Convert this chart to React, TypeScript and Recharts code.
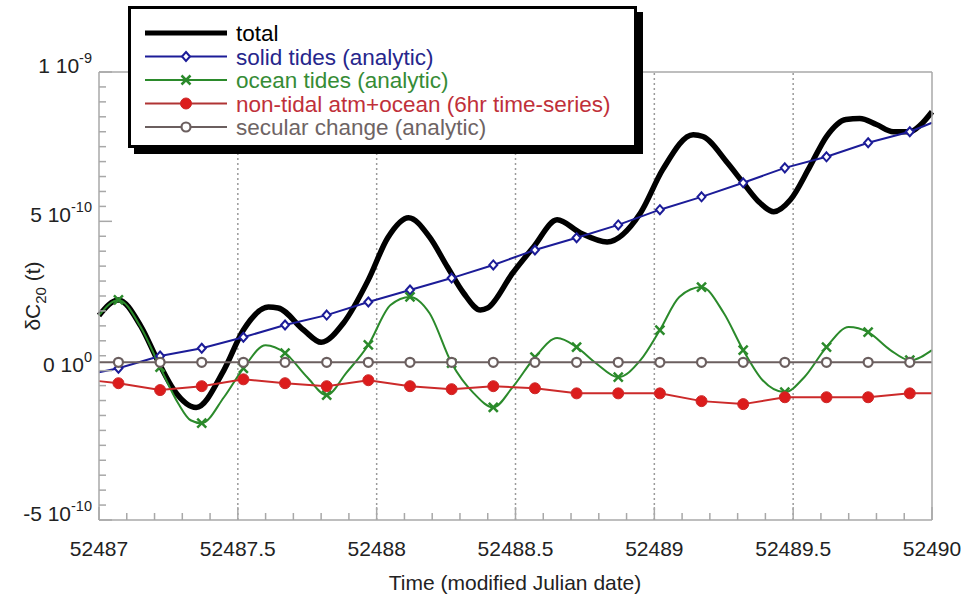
import React from "react";
import { LineChart, Line, XAxis, YAxis, ReferenceLine, Label } from "recharts";

// time in modified Julian date, values in units of 1e-10
const MARKER_T = [
  52487.07, 52487.22, 52487.37, 52487.52, 52487.67, 52487.82, 52487.97, 52488.12, 52488.27, 52488.42,
  52488.57, 52488.72, 52488.87, 52489.02, 52489.17, 52489.32, 52489.47, 52489.62, 52489.77, 52489.92,
];

const TOTAL_T = [
  52487, 52487.07, 52487.15, 52487.216, 52487.27, 52487.35, 52487.45, 52487.52, 52487.61, 52487.645,
  52487.737, 52487.8, 52487.88, 52487.97, 52488.04, 52488.115, 52488.19, 52488.255, 52488.313, 52488.374,
  52488.4, 52488.49, 52488.565, 52488.65, 52488.734, 52488.83, 52488.95, 52489.03, 52489.14, 52489.175,
  52489.263, 52489.32, 52489.38, 52489.43, 52489.49, 52489.56, 52489.62, 52489.69, 52489.74, 52489.8,
  52489.86, 52489.92, 52489.96, 52490,
];
const TOTAL_V = [
  1.85, 2.37, 1.5, 0.25, -0.65, -1.23, 0.02, 1.36, 2.13, 2.1,
  1.36, 0.95, 1.59, 3.04, 4.45, 5.12, 4.48, 3.47, 2.6, 2.03,
  2.1, 3.27, 4.14, 5.05, 4.61, 4.31, 5.28, 6.73, 7.9, 7.84,
  6.96, 6.29, 5.62, 5.32, 5.72, 6.83, 7.84, 8.41, 8.44, 8.24,
  8.0, 8.0, 8.24, 8.67,
];

const SOLID_T = [52487, ...MARKER_T, 52490];
const SOLID_V = [
  -0.05, 0.08, 0.49, 0.75, 1.12, 1.53, 1.86, 2.3, 2.7, 3.1, 3.54,
  4.04, 4.45, 4.88, 5.39, 5.82, 6.29, 6.79, 7.16, 7.63, 8.0, 8.3,
];

const OCEAN_T = [
  52487, 52487.07, 52487.15, 52487.22, 52487.285, 52487.33, 52487.37, 52487.45, 52487.52, 52487.6,
  52487.67, 52487.75, 52487.82, 52487.89, 52487.97, 52488.05, 52488.12, 52488.19, 52488.27, 52488.35,
  52488.42, 52488.49, 52488.57, 52488.65, 52488.72, 52488.79, 52488.87, 52488.95, 52489.02, 52489.09,
  52489.17, 52489.25, 52489.32, 52489.39, 52489.47, 52489.54, 52489.62, 52489.7, 52489.77, 52489.85,
  52489.92, 52490,
];
const OCEAN_V = [
  1.85, 2.37, 1.46, 0.12, -1.09, -1.66, -1.76, -0.89, 0.08, 0.85,
  0.59, -0.22, -0.82, -0.08, 0.86, 2.2, 2.47, 1.93, 0.25, -0.76,
  -1.23, -0.55, 0.45, 1.09, 0.79, 0.25, -0.22, 0.35, 1.36, 2.47,
  2.8, 1.93, 0.69, -0.32, -0.72, -0.22, 0.79, 1.46, 1.29, 0.69,
  0.35, 0.69,
];

const ATMO_T = [52487, ...MARKER_T, 52490];
const ATMO_V = [
  -0.35, -0.42, -0.65, -0.52, -0.29, -0.42, -0.52, -0.32, -0.52, -0.62, -0.52,
  -0.59, -0.76, -0.76, -0.76, -1.02, -1.12, -0.89, -0.89, -0.89, -0.76, -0.76,
];

const SECULAR_T = [52487, ...MARKER_T, 52490];
const SECULAR_V = [
  0.28, 0.28, 0.28, 0.28, 0.28, 0.28, 0.28, 0.28, 0.28, 0.28, 0.28,
  0.28, 0.28, 0.28, 0.28, 0.28, 0.28, 0.28, 0.28, 0.28, 0.28, 0.28,
];

const X_MAJOR = [52487, 52487.5, 52488, 52488.5, 52489, 52489.5, 52490];
const X_LABELS = ["52487", "52487.5", "52488", "52488.5", "52489", "52489.5", "52490"];
const X_GRID = [52487.5, 52488, 52488.5, 52489, 52489.5];
const Y_MAJOR = [-5, 0, 5, 10];
const Y_MANTISSA = ["-5", "0", "5", "1"];
const Y_EXPONENT = ["-10", "0", "-10", "-9"];

const X_TICKS = Array.from({ length: 31 }, (_, i) => +(52487 + i * 0.1).toFixed(1));
const Y_TICKS = Array.from({ length: 31 }, (_, i) => -5 + i * 0.5);

const FONT = "'Liberation Sans', Arial, Helvetica, sans-serif";
const AXIS_GRAY = "#a8a8a8";
const COL = {
  total: "#000000",
  solid: "#1c1c98",
  ocean: "#2b8a2b",
  atmo: "#cc2a2a",
  atmoDot: "#dc1c1c",
  secular: "#6b5f5f",
};

const toSeries = (ts: number[], vs: number[]) =>
  ts.map((t, i) => ({ t, v: vs[i], m: MARKER_T.includes(t) }));

const totalData = toSeries(TOTAL_T, TOTAL_V);
const solidData = toSeries(SOLID_T, SOLID_V);
const oceanData = toSeries(OCEAN_T, OCEAN_V);
const atmoData = toSeries(ATMO_T, ATMO_V);
const secularData = toSeries(SECULAR_T, SECULAR_V);

const near = (a: number, b: number) => Math.abs(a - b) < 1e-6;
const xIndex = (v: number) => X_MAJOR.findIndex((m) => near(m, v));
const yIndex = (v: number) => Y_MAJOR.findIndex((m) => near(m, v));

function Diamond({ cx, cy }: { cx: number; cy: number }) {
  return (
    <polygon
      points={`${cx},${cy - 4.5} ${cx + 4},${cy} ${cx},${cy + 4.5} ${cx - 4},${cy}`}
      fill="#fff"
      stroke={COL.solid}
      strokeWidth={2}
    />
  );
}
function Cross({ cx, cy }: { cx: number; cy: number }) {
  return (
    <g stroke={COL.ocean} strokeWidth={2.5}>
      <line x1={cx - 4.5} y1={cy - 4.5} x2={cx + 4.5} y2={cy + 4.5} />
      <line x1={cx - 4.5} y1={cy + 4.5} x2={cx + 4.5} y2={cy - 4.5} />
    </g>
  );
}
function RedDot({ cx, cy }: { cx: number; cy: number }) {
  return <circle cx={cx} cy={cy} r={5.5} fill={COL.atmoDot} stroke={COL.atmo} strokeWidth={1} />;
}
function OpenDot({ cx, cy }: { cx: number; cy: number }) {
  return <circle cx={cx} cy={cy} r={4.5} fill="#fff" stroke={COL.secular} strokeWidth={2.2} />;
}

const markerDot = (Shape: any) => (p: any) =>
  p.payload && p.payload.m ? <Shape key={p.index} cx={p.cx} cy={p.cy} /> : <g key={p.index} />;

function BottomTick({ x, y, payload }: any) {
  const i = xIndex(payload.value);
  return (
    <g>
      <line x1={x} y1={y} x2={x} y2={y - (i >= 0 ? 13 : 7)} stroke={AXIS_GRAY} strokeWidth={1.5} />
      {i >= 0 && (
        <text x={x} y={y + 36} textAnchor="middle" fontSize={21} fill="#222" fontFamily={FONT}>
          {X_LABELS[i]}
        </text>
      )}
    </g>
  );
}
function TopTick({ x, y, payload }: any) {
  const i = xIndex(payload.value);
  return <line x1={x} y1={y} x2={x} y2={y + (i >= 0 ? 13 : 7)} stroke={AXIS_GRAY} strokeWidth={1.5} />;
}
function LeftTick({ x, y, payload }: any) {
  const i = yIndex(payload.value);
  return (
    <g>
      <line x1={x} y1={y} x2={x + (i >= 0 ? 13 : 7)} y2={y} stroke={AXIS_GRAY} strokeWidth={1.5} />
      {i >= 0 && (
        <text x={x - 7} y={y + 1} textAnchor="end" fontSize={21} fill="#222" fontFamily={FONT}>
          {Y_MANTISSA[i]} 10
          <tspan dy={-10} fontSize={14.5}>
            {Y_EXPONENT[i]}
          </tspan>
        </text>
      )}
    </g>
  );
}
function RightTick({ x, y, payload }: any) {
  const i = yIndex(payload.value);
  return <line x1={x} y1={y} x2={x - (i >= 0 ? 13 : 7)} y2={y} stroke={AXIS_GRAY} strokeWidth={1.5} />;
}

const LEGEND_ROWS = [
  { label: "total", line: COL.total, text: "#000", width: 5, marker: null },
  { label: "solid tides (analytic)", line: COL.solid, text: "#26268c", width: 2, marker: Diamond },
  { label: "ocean tides (analytic)", line: COL.ocean, text: "#368c36", width: 2, marker: Cross },
  { label: "non-tidal atm+ocean (6hr time-series)", line: "#b03434", text: "#c0303a", width: 2, marker: RedDot },
  { label: "secular change (analytic)", line: COL.secular, text: "#6e6464", width: 2, marker: OpenDot },
];

function LegendBox() {
  return (
    <div
      style={{
        position: "absolute",
        left: 128,
        top: 6,
        width: 509,
        height: 142,
        boxSizing: "border-box",
        border: "3px solid #000",
        boxShadow: "6px 6px 0 #000",
        background: "#fff",
      }}
    >
      <svg width={503} height={136} style={{ display: "block" }}>
        {LEGEND_ROWS.map((r, i) => {
          const cy = 24 + i * 23.5;
          const M: any = r.marker;
          return (
            <g key={r.label}>
              <line x1={14} y1={cy} x2={96} y2={cy} stroke={r.line} strokeWidth={r.width} />
              {M && <M cx={55} cy={cy} />}
              <text x={105} y={cy + 8} fontSize={22.5} fill={r.text} fontFamily={FONT}>
                {r.label}
              </text>
            </g>
          );
        })}
      </svg>
    </div>
  );
}

export default function App() {
  return (
    <div style={{ position: "absolute", left: 0, top: 0, width: 972, height: 600, background: "#fff" }}>
      <LineChart width={972} height={600} margin={{ top: 71, right: 39, bottom: 79, left: 98 }}>
        <XAxis
          xAxisId={0}
          dataKey="t"
          type="number"
          domain={[52487, 52490]}
          ticks={X_TICKS}
          interval={0}
          height={1}
          tickSize={0}
          tickMargin={0}
          tickLine={false}
          axisLine={{ stroke: AXIS_GRAY, strokeWidth: 1.5 }}
          tick={BottomTick}
        >
          <Label
            content={() => (
              <text x={515} y={590} textAnchor="middle" fontSize={21} fill="#222" fontFamily={FONT}>
                Time (modified Julian date)
              </text>
            )}
          />
        </XAxis>
        <XAxis
          xAxisId="top"
          orientation="top"
          dataKey="t"
          type="number"
          domain={[52487, 52490]}
          ticks={X_TICKS}
          interval={0}
          height={1}
          tickSize={0}
          tickMargin={0}
          tickLine={false}
          axisLine={{ stroke: AXIS_GRAY, strokeWidth: 1.5 }}
          tick={TopTick}
        />
        <YAxis
          yAxisId={0}
          type="number"
          domain={[-5, 10]}
          ticks={Y_TICKS}
          interval={0}
          width={1}
          tickSize={0}
          tickMargin={0}
          tickLine={false}
          axisLine={{ stroke: AXIS_GRAY, strokeWidth: 1.5 }}
          tick={LeftTick}
        >
          <Label
            content={() => (
              <text transform="translate(40,296) rotate(-90)" textAnchor="middle" fontSize={21} fill="#222" fontFamily={FONT}>
                δC
                <tspan dy={6} fontSize={15}>
                  20
                </tspan>
                <tspan dy={-6}> (t)</tspan>
              </text>
            )}
          />
        </YAxis>
        <YAxis
          yAxisId="right"
          orientation="right"
          type="number"
          domain={[-5, 10]}
          ticks={Y_TICKS}
          interval={0}
          width={1}
          tickSize={0}
          tickMargin={0}
          tickLine={false}
          axisLine={{ stroke: AXIS_GRAY, strokeWidth: 1.5 }}
          tick={RightTick}
        />
        {X_GRID.map((g) => (
          <ReferenceLine key={g} x={g} stroke="#9a9a9a" strokeWidth={1.5} strokeDasharray="2 3" />
        ))}
        <Line
          data={totalData}
          dataKey="v"
          type="monotone"
          stroke={COL.total}
          strokeWidth={5.5}
          dot={false}
          isAnimationActive={false}
        />
        <Line
          data={solidData}
          dataKey="v"
          type="linear"
          stroke={COL.solid}
          strokeWidth={2}
          dot={markerDot(Diamond)}
          isAnimationActive={false}
        />
        <Line
          data={oceanData}
          dataKey="v"
          type="monotone"
          stroke={COL.ocean}
          strokeWidth={2}
          dot={markerDot(Cross)}
          isAnimationActive={false}
        />
        <Line
          data={atmoData}
          dataKey="v"
          type="linear"
          stroke={COL.atmo}
          strokeWidth={2}
          dot={markerDot(RedDot)}
          isAnimationActive={false}
        />
        <Line
          data={secularData}
          dataKey="v"
          type="linear"
          stroke={COL.secular}
          strokeWidth={2}
          dot={markerDot(OpenDot)}
          isAnimationActive={false}
        />
      </LineChart>
      <LegendBox />
    </div>
  );
}
